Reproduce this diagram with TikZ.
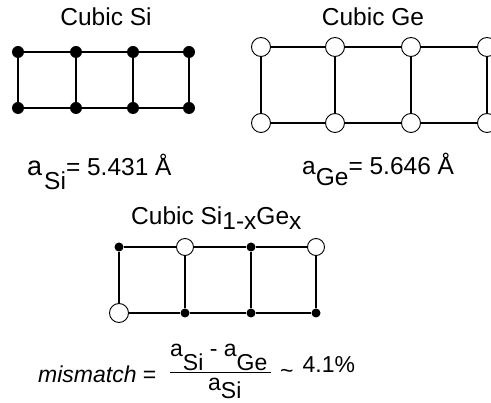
\documentclass[tikz,border=0pt]{standalone}
\usepackage{fontspec}
\setmainfont{Liberation Sans}
\usepackage{tikz}

\tikzset{
  bond/.style={line width=1.1pt},
  sidot/.style={circle, fill=black, inner sep=0pt, minimum size=12pt},
  smalldot/.style={circle, fill=black, inner sep=0pt, minimum size=9pt},
  gering/.style={circle, draw, fill=white, line width=0.9pt, inner sep=0pt, minimum size=19pt},
  smallring/.style={circle, draw, fill=white, line width=0.9pt, inner sep=0pt, minimum size=17pt},
  label/.style={anchor=base west, inner sep=0pt},
  formula/.style={label, font=\fontsize{23}{27}\selectfont}
}

\begin{document}
\begin{tikzpicture}[x=1pt,y=-1pt,every node/.style={font=\fontsize{24.5}{28}\selectfont}]
    \useasboundingbox (0,0) rectangle (491,403);

    % Cubic Si
    \node[inner sep=0pt] (sititle) at (106,17) {Cubic Si};
    \foreach \i/\x in {1/18,2/76,3/133,4/189} {
      \node[sidot] (sit\i) at (\x,52) {};
      \node[sidot] (sib\i) at (\x,108) {};
    }
    \foreach \i in {1,...,4} \draw[bond] (sit\i) -- (sib\i);
    \foreach \i/\j in {1/2,2/3,3/4} {
      \draw[bond] (sit\i) -- (sit\j);
      \draw[bond] (sib\i) -- (sib\j);
    }
    \node[label] (asi) at (27,176) {{\fontsize{27}{30}\selectfont a}\hspace{2pt}\raisebox{-14pt}{Si}= 5.431 Å};

    % Cubic Ge
    \node[inner sep=0pt] (getitle) at (373,17) {Cubic Ge};
    \foreach \i/\x in {1/261,2/335,3/411,4/487} {
      \node[gering] (get\i) at (\x,47) {};
      \node[gering] (geb\i) at (\x,123) {};
    }
    \foreach \i in {1,...,4} \draw[bond] (get\i) -- (geb\i);
    \foreach \i/\j in {1/2,2/3,3/4} {
      \draw[bond] (get\i) -- (get\j);
      \draw[bond] (geb\i) -- (geb\j);
    }
    \node[label] (age) at (302,175) {a\raisebox{-11pt}{Ge}= 5.646 Å};

    % Cubic SiGe
    \node[label] (sigetitle) at (131,225) {Cubic Si\raisebox{-5pt}{1-x}Ge\raisebox{-5pt}{x}};
    \node[smalldot] (mt1) at (119,247) {};
    \node[smallring] (mt2) at (185,247) {};
    \node[smalldot] (mt3) at (251,247) {};
    \node[smallring] (mt4) at (316,247) {};
    \node[gering] (mb1) at (119,313) {};
    \node[smalldot] (mb2) at (185,313) {};
    \node[smalldot] (mb3) at (251,313) {};
    \node[smalldot] (mb4) at (316,313) {};
    \foreach \i in {1,...,4} \draw[bond] (mt\i) -- (mb\i);
    \foreach \i/\j in {1/2,2/3,3/4} {
      \draw[bond] (mt\i) -- (mt\j);
      \draw[bond] (mb\i) -- (mb\j);
    }

    % mismatch
    \node[formula] (mis) at (38,383) {\textit{mismatch} =};
    \node[formula] (num) at (170,357) {a\raisebox{-14pt}{Si} - a\raisebox{-14pt}{Ge}};
    \draw[bond] ([yshift=-1pt]num.south west) -- ([xshift=3pt,yshift=-1pt]num.south east);
    \node[formula] (den) at (208,391) {a\raisebox{-8pt}{Si}};
    \node[formula] (pct) at (280,373) {\raisebox{-6pt}{\textasciitilde}\hspace{9pt}4.1\%};
\end{tikzpicture}
\end{document}
